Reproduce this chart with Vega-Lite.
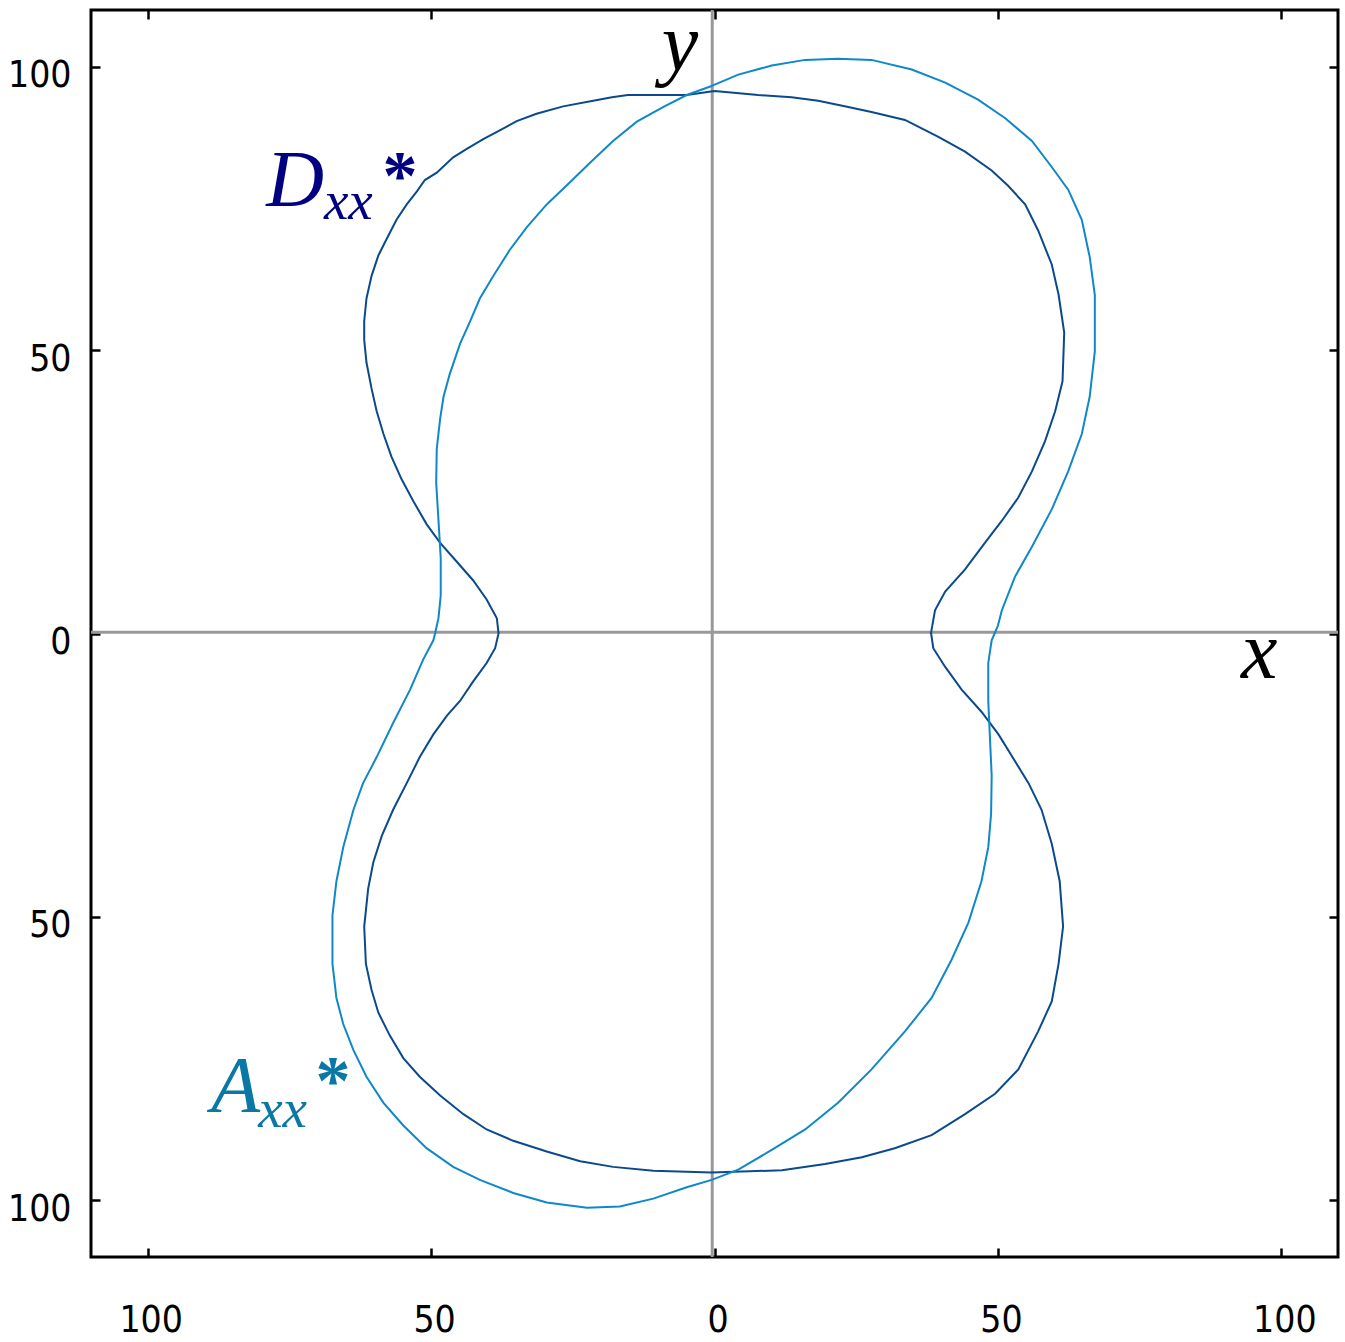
{
  "$schema": "https://vega.github.io/schema/vega-lite/v6.json",
  "width": 1247,
  "height": 1247,
  "autosize": {"type": "none"},
  "padding": {"left": 91, "top": 10, "right": 7, "bottom": 85},
  "background": "white",
  "config": {
    "view": {"stroke": "black", "strokeWidth": 3},
    "axis": {
      "domain": false,
      "grid": false,
      "ticks": true,
      "tickColor": "black",
      "tickWidth": 2.5,
      "tickSize": -9,
      "labelFont": "Liberation Sans Narrow, Arial Narrow, DejaVu Sans Condensed, sans-serif",
      "labelFontSize": 37,
      "labelColor": "black",
      "title": null
    }
  },
  "resolve": {"axis": {"x": "independent", "y": "independent"}},
  "datasets": {
    "curves": [
      {"s":"Dxx","i":0,"x":0,"y":95.7},{"s":"Dxx","i":1,"x":-4.9,"y":95.0},{"s":"Dxx","i":2,"x":-15.3,"y":95.0},{"s":"Dxx","i":3,"x":-18.1,"y":94.6},{"s":"Dxx","i":4,"x":-21.4,"y":94.0},{"s":"Dxx","i":5,"x":-26.7,"y":93.0},{"s":"Dxx","i":6,"x":-31.4,"y":91.7},{"s":"Dxx","i":7,"x":-34.9,"y":90.4},{"s":"Dxx","i":8,"x":-37.8,"y":88.8},{"s":"Dxx","i":9,"x":-40.8,"y":87.2},{"s":"Dxx","i":10,"x":-43.7,"y":85.5},{"s":"Dxx","i":11,"x":-46.1,"y":84.0},{"s":"Dxx","i":12,"x":-49.0,"y":81.3},{"s":"Dxx","i":13,"x":-51.1,"y":80.0},{"s":"Dxx","i":14,"x":-52.5,"y":78.0},{"s":"Dxx","i":15,"x":-54.3,"y":75.7},{"s":"Dxx","i":16,"x":-56.1,"y":73.0},{"s":"Dxx","i":17,"x":-57.8,"y":69.7},{"s":"Dxx","i":18,"x":-59.3,"y":66.7},{"s":"Dxx","i":19,"x":-60.5,"y":63.1},{"s":"Dxx","i":20,"x":-61.4,"y":59.1},{"s":"Dxx","i":21,"x":-61.8,"y":55.1},{"s":"Dxx","i":22,"x":-61.8,"y":51.8},{"s":"Dxx","i":23,"x":-61.4,"y":47.8},{"s":"Dxx","i":24,"x":-60.5,"y":43.2},{"s":"Dxx","i":25,"x":-59.6,"y":39.2},{"s":"Dxx","i":26,"x":-58.4,"y":35.2},{"s":"Dxx","i":27,"x":-57.0,"y":31.2},{"s":"Dxx","i":28,"x":-55.2,"y":27.2},{"s":"Dxx","i":29,"x":-53.1,"y":23.3},{"s":"Dxx","i":30,"x":-50.8,"y":19.3},{"s":"Dxx","i":31,"x":-48.4,"y":16.0},{"s":"Dxx","i":32,"x":-45.5,"y":12.7},{"s":"Dxx","i":33,"x":-42.6,"y":9.4},{"s":"Dxx","i":34,"x":-40.2,"y":6.0},{"s":"Dxx","i":35,"x":-38.4,"y":2.7},{"s":"Dxx","i":36,"x":-38.1,"y":0.0},
      {"s":"Dxx","i":37,"x":-38.7,"y":-2.6},{"s":"Dxx","i":38,"x":-40.2,"y":-5.2},{"s":"Dxx","i":39,"x":-42.6,"y":-8.5},{"s":"Dxx","i":40,"x":-44.9,"y":-11.9},{"s":"Dxx","i":41,"x":-47.2,"y":-14.5},{"s":"Dxx","i":42,"x":-49.6,"y":-17.8},{"s":"Dxx","i":43,"x":-52.0,"y":-21.8},{"s":"Dxx","i":44,"x":-54.3,"y":-26.4},{"s":"Dxx","i":45,"x":-56.7,"y":-31.1},{"s":"Dxx","i":46,"x":-58.7,"y":-35.7},{"s":"Dxx","i":47,"x":-60.2,"y":-40.4},{"s":"Dxx","i":48,"x":-61.1,"y":-45.0},{"s":"Dxx","i":49,"x":-61.8,"y":-51.7},{"s":"Dxx","i":50,"x":-61.5,"y":-58.3},{"s":"Dxx","i":51,"x":-60.5,"y":-62.9},{"s":"Dxx","i":52,"x":-59.3,"y":-66.9},{"s":"Dxx","i":53,"x":-57.3,"y":-70.9},{"s":"Dxx","i":54,"x":-54.9,"y":-74.9},{"s":"Dxx","i":55,"x":-52.0,"y":-78.2},{"s":"Dxx","i":56,"x":-48.4,"y":-81.5},{"s":"Dxx","i":57,"x":-44.3,"y":-84.8},{"s":"Dxx","i":58,"x":-40.2,"y":-87.5},{"s":"Dxx","i":59,"x":-35.5,"y":-89.5},{"s":"Dxx","i":60,"x":-29.6,"y":-91.4},{"s":"Dxx","i":61,"x":-23.7,"y":-93.1},{"s":"Dxx","i":62,"x":-17.9,"y":-94.1},{"s":"Dxx","i":63,"x":-10.8,"y":-94.8},{"s":"Dxx","i":64,"x":-0.5,"y":-95.1},
      {"s":"Dxx","i":65,"x":11.9,"y":-94.7},{"s":"Dxx","i":66,"x":19.5,"y":-93.6},{"s":"Dxx","i":67,"x":26.0,"y":-92.4},{"s":"Dxx","i":68,"x":31.8,"y":-90.8},{"s":"Dxx","i":69,"x":38.3,"y":-88.5},{"s":"Dxx","i":70,"x":44.2,"y":-84.8},{"s":"Dxx","i":71,"x":49.5,"y":-81.2},{"s":"Dxx","i":72,"x":53.6,"y":-76.9},{"s":"Dxx","i":73,"x":57.1,"y":-70.2},{"s":"Dxx","i":74,"x":59.5,"y":-64.9},{"s":"Dxx","i":75,"x":60.7,"y":-58.3},{"s":"Dxx","i":76,"x":61.5,"y":-51.7},{"s":"Dxx","i":77,"x":60.9,"y":-43.7},{"s":"Dxx","i":78,"x":59.5,"y":-37.1},{"s":"Dxx","i":79,"x":57.7,"y":-31.1},{"s":"Dxx","i":80,"x":55.4,"y":-26.4},{"s":"Dxx","i":81,"x":53.0,"y":-22.5},{"s":"Dxx","i":82,"x":50.1,"y":-17.8},{"s":"Dxx","i":83,"x":47.1,"y":-13.8},{"s":"Dxx","i":84,"x":43.6,"y":-9.9},{"s":"Dxx","i":85,"x":40.7,"y":-5.9},{"s":"Dxx","i":86,"x":38.6,"y":-2.6},{"s":"Dxx","i":87,"x":38.2,"y":0.1},
      {"s":"Dxx","i":88,"x":38.9,"y":4.1},{"s":"Dxx","i":89,"x":40.7,"y":7.4},{"s":"Dxx","i":90,"x":44.2,"y":11.3},{"s":"Dxx","i":91,"x":47.7,"y":16.0},{"s":"Dxx","i":92,"x":50.7,"y":19.9},{"s":"Dxx","i":93,"x":53.6,"y":24.0},{"s":"Dxx","i":94,"x":56.0,"y":28.6},{"s":"Dxx","i":95,"x":58.3,"y":33.9},{"s":"Dxx","i":96,"x":60.1,"y":39.2},{"s":"Dxx","i":97,"x":61.4,"y":44.5},{"s":"Dxx","i":98,"x":61.7,"y":53.1},{"s":"Dxx","i":99,"x":60.7,"y":59.8},{"s":"Dxx","i":100,"x":59.5,"y":65.1},{"s":"Dxx","i":101,"x":57.1,"y":71.1},{"s":"Dxx","i":102,"x":54.8,"y":75.7},{"s":"Dxx","i":103,"x":51.8,"y":79.0},{"s":"Dxx","i":104,"x":48.9,"y":81.7},{"s":"Dxx","i":105,"x":44.2,"y":85.0},{"s":"Dxx","i":106,"x":39.5,"y":87.6},{"s":"Dxx","i":107,"x":33.6,"y":90.6},{"s":"Dxx","i":108,"x":27.7,"y":92.0},{"s":"Dxx","i":109,"x":23.6,"y":92.9},{"s":"Dxx","i":110,"x":18.3,"y":94.0},{"s":"Dxx","i":111,"x":13.6,"y":94.6},{"s":"Dxx","i":112,"x":7.7,"y":95.0},{"s":"Dxx","i":113,"x":0,"y":95.7},
      {"s":"Axx","i":0,"x":-0.5,"y":96.6},{"s":"Axx","i":1,"x":-4.9,"y":95.0},{"s":"Axx","i":2,"x":-9.0,"y":92.9},{"s":"Axx","i":3,"x":-13.7,"y":90.3},{"s":"Axx","i":4,"x":-17.9,"y":86.9},{"s":"Axx","i":5,"x":-22.0,"y":83.0},{"s":"Axx","i":6,"x":-25.5,"y":79.6},{"s":"Axx","i":7,"x":-29.6,"y":75.7},{"s":"Axx","i":8,"x":-33.1,"y":71.7},{"s":"Axx","i":9,"x":-36.1,"y":67.7},{"s":"Axx","i":10,"x":-39.0,"y":63.1},{"s":"Axx","i":11,"x":-41.4,"y":59.1},{"s":"Axx","i":12,"x":-43.1,"y":55.1},{"s":"Axx","i":13,"x":-44.9,"y":51.1},{"s":"Axx","i":14,"x":-46.7,"y":45.8},{"s":"Axx","i":15,"x":-47.8,"y":41.8},{"s":"Axx","i":16,"x":-48.4,"y":37.9},{"s":"Axx","i":17,"x":-49.0,"y":32.6},{"s":"Axx","i":18,"x":-49.1,"y":26.6},{"s":"Axx","i":19,"x":-48.7,"y":20.0},{"s":"Axx","i":20,"x":-48.3,"y":13.3},{"s":"Axx","i":21,"x":-48.3,"y":6.7},{"s":"Axx","i":22,"x":-48.7,"y":2.7},{"s":"Axx","i":23,"x":-49.3,"y":0.0},
      {"s":"Axx","i":24,"x":-49.6,"y":-1.2},{"s":"Axx","i":25,"x":-51.4,"y":-4.6},{"s":"Axx","i":26,"x":-53.7,"y":-9.9},{"s":"Axx","i":27,"x":-56.7,"y":-15.8},{"s":"Axx","i":28,"x":-59.6,"y":-21.8},{"s":"Axx","i":29,"x":-62.0,"y":-26.4},{"s":"Axx","i":30,"x":-63.7,"y":-31.1},{"s":"Axx","i":31,"x":-65.5,"y":-37.7},{"s":"Axx","i":32,"x":-66.7,"y":-43.7},{"s":"Axx","i":33,"x":-67.4,"y":-49.7},{"s":"Axx","i":34,"x":-67.4,"y":-58.3},{"s":"Axx","i":35,"x":-66.7,"y":-64.3},{"s":"Axx","i":36,"x":-65.5,"y":-68.9},{"s":"Axx","i":37,"x":-63.7,"y":-73.5},{"s":"Axx","i":38,"x":-61.4,"y":-78.2},{"s":"Axx","i":39,"x":-58.4,"y":-82.8},{"s":"Axx","i":40,"x":-54.9,"y":-86.8},{"s":"Axx","i":41,"x":-50.8,"y":-90.8},{"s":"Axx","i":42,"x":-46.1,"y":-94.1},{"s":"Axx","i":43,"x":-41.4,"y":-96.4},{"s":"Axx","i":44,"x":-35.5,"y":-98.7},{"s":"Axx","i":45,"x":-29.6,"y":-100.4},{"s":"Axx","i":46,"x":-22.5,"y":-101.3},{"s":"Axx","i":47,"x":-16.7,"y":-101.1},{"s":"Axx","i":48,"x":-10.8,"y":-99.7},{"s":"Axx","i":49,"x":-4.9,"y":-97.7},{"s":"Axx","i":50,"x":-0.5,"y":-96.4},
      {"s":"Axx","i":51,"x":4.2,"y":-94.6},{"s":"Axx","i":52,"x":10.1,"y":-91.1},{"s":"Axx","i":53,"x":16.0,"y":-87.5},{"s":"Axx","i":54,"x":21.8,"y":-82.8},{"s":"Axx","i":55,"x":27.7,"y":-76.9},{"s":"Axx","i":56,"x":33.6,"y":-70.2},{"s":"Axx","i":57,"x":38.3,"y":-64.3},{"s":"Axx","i":58,"x":41.8,"y":-57.6},{"s":"Axx","i":59,"x":44.8,"y":-51.0},{"s":"Axx","i":60,"x":47.1,"y":-43.7},{"s":"Axx","i":61,"x":48.3,"y":-37.7},{"s":"Axx","i":62,"x":48.8,"y":-31.8},{"s":"Axx","i":63,"x":48.9,"y":-25.1},{"s":"Axx","i":64,"x":48.6,"y":-18.5},{"s":"Axx","i":65,"x":48.3,"y":-11.9},{"s":"Axx","i":66,"x":48.3,"y":-5.2},{"s":"Axx","i":67,"x":48.9,"y":-1.2},{"s":"Axx","i":68,"x":50.0,"y":1.4},
      {"s":"Axx","i":69,"x":50.7,"y":4.1},{"s":"Axx","i":70,"x":53.0,"y":10.0},{"s":"Axx","i":71,"x":56.0,"y":15.3},{"s":"Axx","i":72,"x":59.5,"y":21.9},{"s":"Axx","i":73,"x":62.4,"y":28.6},{"s":"Axx","i":74,"x":64.8,"y":35.2},{"s":"Axx","i":75,"x":66.2,"y":41.8},{"s":"Axx","i":76,"x":67.1,"y":49.8},{"s":"Axx","i":77,"x":67.1,"y":59.7},{"s":"Axx","i":78,"x":66.2,"y":66.4},{"s":"Axx","i":79,"x":64.8,"y":73.0},{"s":"Axx","i":80,"x":62.4,"y":78.3},{"s":"Axx","i":81,"x":59.5,"y":82.3},{"s":"Axx","i":82,"x":56.0,"y":86.9},{"s":"Axx","i":83,"x":51.3,"y":90.9},{"s":"Axx","i":84,"x":46.5,"y":94.2},{"s":"Axx","i":85,"x":40.7,"y":97.2},{"s":"Axx","i":86,"x":34.8,"y":99.5},{"s":"Axx","i":87,"x":27.7,"y":101.2},{"s":"Axx","i":88,"x":21.8,"y":101.4},{"s":"Axx","i":89,"x":16.0,"y":101.2},{"s":"Axx","i":90,"x":10.1,"y":100.2},{"s":"Axx","i":91,"x":4.2,"y":98.6},{"s":"Axx","i":92,"x":-0.5,"y":96.6}
    ]
  },
  "layer": [
    {
      "data": {"values": [{"v": -0.4}]},
      "mark": {"type": "rule", "color": "#999999", "strokeWidth": 3},
      "encoding": {
        "x": {"field": "v", "type": "quantitative", "scale": {"domain": [-110, 110], "nice": false, "zero": false},
          "axis": {"orient": "top", "values": [-100, -50, 0, 50, 100], "labels": false}}
      }
    },
    {
      "data": {"values": [{"v": 0.2}]},
      "mark": {"type": "rule", "color": "#999999", "strokeWidth": 3},
      "encoding": {
        "y": {"field": "v", "type": "quantitative", "scale": {"domain": [-110, 110], "nice": false, "zero": false},
          "axis": {"orient": "right", "values": [-100, -50, 0, 50, 100], "labels": false}}
      }
    },
    {
      "data": {"name": "curves"},
      "mark": {"type": "line", "strokeWidth": 2, "interpolate": "linear"},
      "encoding": {
        "x": {"field": "x", "type": "quantitative",
          "axis": {"orient": "bottom", "values": [-100, -50, 0, 50, 100], "labelExpr": "'' + abs(datum.value)", "labelPadding": 54, "labelOffset": 3}},
        "y": {"field": "y", "type": "quantitative",
          "axis": {"orient": "left", "values": [-100, -50, 0, 50, 100], "labelExpr": "'' + abs(datum.value)", "labelPadding": 29, "labelOffset": 9}},
        "order": {"field": "i", "type": "quantitative"},
        "detail": {"field": "s"},
        "color": {"field": "s", "type": "nominal", "scale": {"domain": ["Dxx", "Axx"], "range": ["#0a4a8c", "#0f88c9"]}, "legend": null}
      }
    },
    {
      "data": {"values": [{"t": "x", "x": 92.9, "y": -7.8}, {"t": "y", "x": -9.3, "y": 99.5}]},
      "mark": {"type": "text", "font": "Liberation Serif", "fontStyle": "italic", "fontSize": 82, "color": "black", "align": "left", "baseline": "alphabetic"},
      "encoding": {"x": {"field": "x", "type": "quantitative", "axis": null}, "y": {"field": "y", "type": "quantitative", "axis": null}, "text": {"field": "t"}}
    },
    {
      "data": {"values": [{"t": "D", "x": -79.1, "y": 75.5}]},
      "mark": {"type": "text", "font": "Liberation Serif", "fontStyle": "italic", "fontSize": 80, "color": "#000080", "align": "left", "baseline": "alphabetic"},
      "encoding": {"x": {"field": "x", "type": "quantitative", "axis": null}, "y": {"field": "y", "type": "quantitative", "axis": null}, "text": {"field": "t"}}
    },
    {
      "data": {"values": [{"t": "xx", "x": -68.9, "y": 73.2}]},
      "mark": {"type": "text", "font": "Liberation Serif", "fontStyle": "italic", "fontSize": 55, "color": "#000080", "align": "left", "baseline": "alphabetic"},
      "encoding": {"x": {"field": "x", "type": "quantitative", "axis": null}, "y": {"field": "y", "type": "quantitative", "axis": null}, "text": {"field": "t"}}
    },
    {
      "data": {"values": [{"t": "*", "x": -55.5, "y": 76.7}]},
      "mark": {"type": "text", "font": "Liberation Serif", "fontWeight": "bold", "fontSize": 70, "color": "#000080", "align": "center", "baseline": "alphabetic"},
      "encoding": {"x": {"field": "x", "type": "quantitative", "axis": null}, "y": {"field": "y", "type": "quantitative", "axis": null}, "text": {"field": "t"}}
    },
    {
      "data": {"values": [{"t": "A", "x": -88.8, "y": -84.5}]},
      "mark": {"type": "text", "font": "Liberation Serif", "fontStyle": "italic", "fontSize": 80, "color": "#0a78a5", "align": "left", "baseline": "alphabetic"},
      "encoding": {"x": {"field": "x", "type": "quantitative", "axis": null}, "y": {"field": "y", "type": "quantitative", "axis": null}, "text": {"field": "t"}}
    },
    {
      "data": {"values": [{"t": "xx", "x": -80.5, "y": -87.0}]},
      "mark": {"type": "text", "font": "Liberation Serif", "fontStyle": "italic", "fontSize": 55, "color": "#0a78a5", "align": "left", "baseline": "alphabetic"},
      "encoding": {"x": {"field": "x", "type": "quantitative", "axis": null}, "y": {"field": "y", "type": "quantitative", "axis": null}, "text": {"field": "t"}}
    },
    {
      "data": {"values": [{"t": "*", "x": -67.3, "y": -83.0}]},
      "mark": {"type": "text", "font": "Liberation Serif", "fontWeight": "bold", "fontSize": 70, "color": "#0a78a5", "align": "center", "baseline": "alphabetic"},
      "encoding": {"x": {"field": "x", "type": "quantitative", "axis": null}, "y": {"field": "y", "type": "quantitative", "axis": null}, "text": {"field": "t"}}
    }
  ]
}
